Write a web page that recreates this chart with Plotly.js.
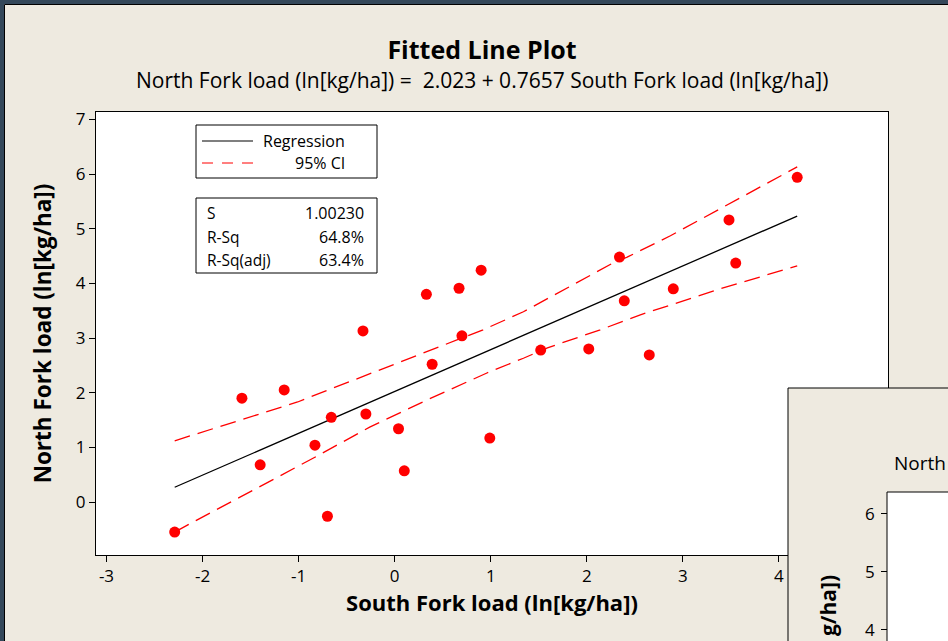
<!DOCTYPE html>
<html><head><meta charset="utf-8">
<script src="https://cdn.plot.ly/plotly-3.0.1.min.js"></script>
<style>html,body{margin:0;padding:0;background:#EEEAE0;overflow:hidden;} #chart{width:948px;height:641px;}</style>
</head><body><div id="chart"></div>
<script>
// ---- data ----
const southFork = [-2.29,-1.59,-1.40,-1.15,-0.83,-0.70,-0.66,-0.33,-0.30,0.04,0.10,0.33,0.39,0.67,0.70,0.90,0.99,1.52,2.02,2.34,2.39,2.65,2.90,3.48,3.55,4.19];
const northFork = [-0.55,1.90,0.68,2.05,1.04,-0.26,1.55,3.13,1.61,1.34,0.57,3.80,2.52,3.91,3.04,4.24,1.17,2.78,2.80,4.48,3.68,2.69,3.90,5.16,4.37,5.94];
const fitX = [-2.29, 4.19];
const fitY = [0.27, 5.23];
const ciUpperX = [-2.29,-1.01,-0.75,0.92,1.34,2.27,2.42,2.87,4.19];
const ciUpper  = [1.12,1.83,2.01,3.15,3.48,4.37,4.48,4.87,6.13];
const ciLowerX = [-2.29,-2.06,-0.85,-0.26,0.34,0.96,1.34,1.59,2.14,2.55,3.39,4.19];
const ciLower  = [-0.55,-0.33,0.80,1.37,1.87,2.36,2.63,2.82,3.15,3.42,3.90,4.32];
const xTicks = [-3,-2,-1,0,1,2,3,4];
const yTicks = [0,1,2,3,4,5,6,7];
const legendLabels = ['Regression','95% CI'];
const statLabels = ['S','R-Sq','R-Sq(adj)'];
const statValues = ['1.00230','64.8%','63.4%'];
const insetTicks = [6,5,4];
const titleText = 'Fitted Line Plot';
const subtitleText = 'North Fork load (ln[kg/ha]) =  2.023 + 0.7657 South Fork load (ln[kg/ha])';
const xTitle = 'South Fork load (ln[kg/ha])';
const yTitle = 'North Fork load (ln[kg/ha])';
// visible parts of the overlapping (second) window's texts
const insetSubtitle = 'North';
const insetYTitle = 'g/ha])';

// ---- layout helpers (pixel -> paper) ----
const W = 948, H = 641;
const M = {l:96, r:60, t:112, b:86};
const px = p => (p - M.l) / (W - M.l - M.r);
const py = p => (H - M.b - p) / (H - M.t - M.b);
const FONT = 'Open Sans, DejaVu Sans, sans-serif';
const BEIGE = '#EEEAE0';
const DARK = '#34485A';

const traces = [
  {x: ciUpperX, y: ciUpper, mode:'lines', line:{color:'#FF0000', width:1.3, dash:'16px,8px'}, hoverinfo:'skip'},
  {x: ciLowerX, y: ciLower, mode:'lines', line:{color:'#FF0000', width:1.3, dash:'16px,8px'}, hoverinfo:'skip'},
  {x: fitX, y: fitY, mode:'lines', line:{color:'#000000', width:1.3}},
  {x: southFork, y: northFork, mode:'markers', marker:{color:'#FF0000', size:11}, cliponaxis:false}
];

const rect = (x0,y0,x1,y1,fill,lw,lc) => ({type:'rect', xref:'paper', yref:'paper', layer:'above',
  x0:px(x0), x1:px(x1), y0:py(y0), y1:py(y1), fillcolor:fill, line:{width:lw, color:lc||'#000'}});
const seg = (x0,y0,x1,y1,color,w,dash) => ({type:'line', xref:'paper', yref:'paper', layer:'above',
  x0:px(x0), x1:px(x1), y0:py(y0), y1:py(y1), line:{color:color, width:w, dash:dash||'solid'}});

const shapes = [
  // legend box & stats box
  rect(196,125,377,178,'#FFFFFF',1),
  seg(202,141,253,141,'#000',1.2),
  seg(202,163,253,163,'#FF0000',1.2,'11px,9px'),
  rect(196,198,377,273,'#FFFFFF',1),
  // window frame (dark border)
  rect(-2,-2,4,H+2,DARK,0,DARK),
  rect(-2,-2,W+2,4,DARK,0,DARK),
  seg(4.5,4.5,4.5,H+2,'#000',1),
  seg(4.5,4.5,W+2,4.5,'#000',1),
  // overlapping second window
  rect(788,388,W+10,H+10,BEIGE,1),
  rect(887,492,W+10,H+10,'#FFFFFF',1)
];
insetTicks.forEach(v => shapes.push(seg(881, 513.5+(6-v)*58, 887, 513.5+(6-v)*58, '#000', 1)));

const ann = (x,y,text,size,xanchor,extra) => Object.assign({xref:'paper', yref:'paper', x:px(x), y:py(y),
  text:text, showarrow:false, xanchor:xanchor||'center', yanchor:'middle', font:{family:FONT, size:size, color:'#000'}}, extra||{});

const annotations = [
  ann(482, 80, subtitleText, 21),
  ann(347, 141, legendLabels[0], 16, 'right'),
  ann(347, 163, legendLabels[1], 16, 'right'),
];
statLabels.forEach((s,i) => {
  annotations.push(ann(205, 213+i*23.5, s, 15.5, 'left'));
  annotations.push(ann(366, 213+i*23.5, statValues[i], 16, 'right'));
});
// second window texts
annotations.push(ann(892, 463, insetSubtitle, 19, 'left'));
insetTicks.forEach(v => annotations.push(ann(877, 513.5+(6-v)*58, String(v), 17, 'right')));
annotations.push(ann(828, 606, '<b>'+insetYTitle+'</b>', 21, 'center', {textangle:-90}));

const layout = {
  width: W, height: H,
  margin: M,
  paper_bgcolor: BEIGE,
  plot_bgcolor: '#FFFFFF',
  showlegend: false,
  font: {family: FONT, size: 17, color:'#000'},
  title: {text: '<b>'+titleText+'</b>', x: 482/W, xanchor:'center', xref:'container',
          y: 1 - 50/H, yanchor:'middle', yref:'container', font:{family:FONT, size:25, color:'#000'}},
  xaxis: {range:[-3.109, 5.135], tickvals: xTicks, ticktext: xTicks.map(String), ticks:'outside', ticklen:6,
          tickcolor:'#000', tickwidth:1, showline:true, mirror:true, linecolor:'#000', linewidth:1,
          showgrid:false, zeroline:false, tickfont:{size:17},
          title:{text:'<b>'+xTitle+'</b>', font:{size:22}, standoff:9}},
  yaxis: {range:[-0.969, 7.134], tickvals: yTicks, ticktext: yTicks.map(String), ticks:'outside', ticklen:6,
          tickcolor:'#000', tickwidth:1, showline:true, mirror:true, linecolor:'#000', linewidth:1,
          showgrid:false, zeroline:false, tickfont:{size:17},
          title:{text:'<b>'+yTitle+'</b>', font:{size:22.5}, standoff:17}},
  shapes: shapes,
  annotations: annotations
};

Plotly.newPlot('chart', traces, layout, {displayModeBar:false, staticPlot:true});
</script>
</body></html>
